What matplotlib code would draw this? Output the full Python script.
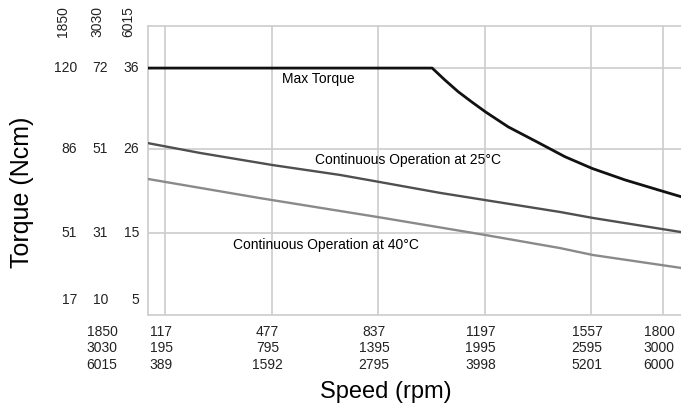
import matplotlib
matplotlib.use("Agg")
from matplotlib import pyplot
from matplotlib.transforms import ScaledTranslation

pyplot.rcParams["font.family"] = ["Liberation Sans", "DejaVu Sans"]

# speed axis rows (one per motor variant), plotted against the first row
speed_1850 = [117, 477, 837, 1197, 1557, 1800]
speed_3030 = [195, 795, 1395, 1995, 2595, 3000]
speed_6015 = [389, 1592, 2795, 3998, 5201, 6000]
variants = ["1850", "3030", "6015"]

# torque axis columns, plotted against the first column
torque_1850 = [120, 86, 51, 17]
torque_3030 = [72, 51, 31, 10]
torque_6015 = [36, 26, 15, 5]

# curves (speed in 1850 units, torque in 120 units)
max_speed = [59.5, 1020, 1063, 1108, 1153, 1201, 1277, 1379, 1469, 1561,
             1672, 1801, 1861]
max_torque = [120, 120, 115.0, 110.1, 105.9, 101.6, 95.4, 88.8, 82.9, 78.0,
              73.2, 68.4, 66.2]

cont25_speed = [59.5, 235, 482, 708, 844, 1046, 1198, 1452, 1563, 1861]
cont25_torque = [88.6, 84.5, 79.4, 75.3, 72.3, 67.8, 64.8, 59.8, 57.3, 51.4]

cont40_speed = [59.5, 438, 840, 1198, 1452, 1563, 1861]
cont40_torque = [73.6, 65.6, 57.6, 50.2, 44.7, 41.8, 36.4]


def plot_chart():
    fig = pyplot.figure(figsize=(6.81, 4.08), dpi=100)
    ax = fig.add_axes([148 / 681, 1 - 315 / 408, 533 / 681, 289 / 408])
    ax.set_xlim(59.5, 1861)
    ax.set_ylim(16.7, 137.6)

    grid = "#cccccc"
    for x in speed_1850:
        ax.axvline(x, color=grid, lw=1.2, zorder=1)
    for y in torque_1850[:3]:
        ax.axhline(y, color=grid, lw=1.2, zorder=1)
    for side in ["left", "top", "bottom"]:
        ax.spines[side].set_color(grid)
        ax.spines[side].set_linewidth(1.2)
    ax.spines["right"].set_visible(False)

    ax.plot(max_speed, max_torque, color="#111111", lw=2.0, zorder=3,
            solid_joinstyle="round")
    ax.plot(cont25_speed, cont25_torque, color="#4f4f4f", lw=1.7, zorder=3)
    ax.plot(cont40_speed, cont40_torque, color="#8a8a8a", lw=1.7, zorder=3)

    ax.text(636, 115.4, "Max Torque", ha="center", va="center", fontsize=10)
    ax.text(938, 81.5, "Continuous Operation at 25°C", ha="center",
            va="center", fontsize=10)
    ax.text(661, 46.0, "Continuous Operation at 40°C", ha="center",
            va="center", fontsize=10)

    # x tick labels, three rows
    labels = ["\n".join(str(v) for v in row)
              for row in zip(speed_1850, speed_3030, speed_6015)]
    ax.set_xticks(speed_1850, labels=labels)
    ax.set_yticks([])
    ax.tick_params(axis="x", length=0, pad=7, labelsize=10, colors="#222222")
    shift = ScaledTranslation(-4 / 100, 0, fig.dpi_scale_trans)
    for lab in ax.get_xticklabels():
        lab.set_linespacing(1.25)
        lab.set_transform(lab.get_transform() + shift)
    ax.annotate("\n".join(variants), xy=(0, 0), xycoords="axes fraction",
                xytext=(-33, -7), textcoords="offset points", ha="center",
                va="top", fontsize=10, linespacing=1.25, color="#222222")

    # y tick labels, three columns, right aligned
    ytrans = ax.get_yaxis_transform()
    columns = [torque_1850, torque_3030, torque_6015]
    col_offsets = [-51, -28.8, -6.5]
    for col, dx in zip(columns, col_offsets):
        for i, (pos, val) in enumerate(zip(torque_1850, col)):
            dy = 10.5 if i == len(torque_1850) - 1 else 0
            ax.annotate(str(val), xy=(0, pos), xycoords=ytrans,
                        xytext=(dx, dy), textcoords="offset points",
                        ha="right", va="center", fontsize=10, color="#222222")
    for name, dx in zip(variants, [-61, -36.7, -14.4]):
        ax.annotate(name, xy=(0, 1), xycoords="axes fraction",
                    xytext=(dx, 3), textcoords="offset points", ha="center",
                    va="center", rotation=90, fontsize=10, color="#222222")

    fig.text(386 / 681, 1 - 392 / 408, "Speed (rpm)", ha="center",
             va="center", fontsize=17)
    fig.text(22 / 681, 1 - 192 / 408, "Torque (Ncm)", ha="center",
             va="center", rotation=90, fontsize=18)

    fig.savefig("out.png", dpi=100)


if __name__ == "__main__":
    plot_chart()
